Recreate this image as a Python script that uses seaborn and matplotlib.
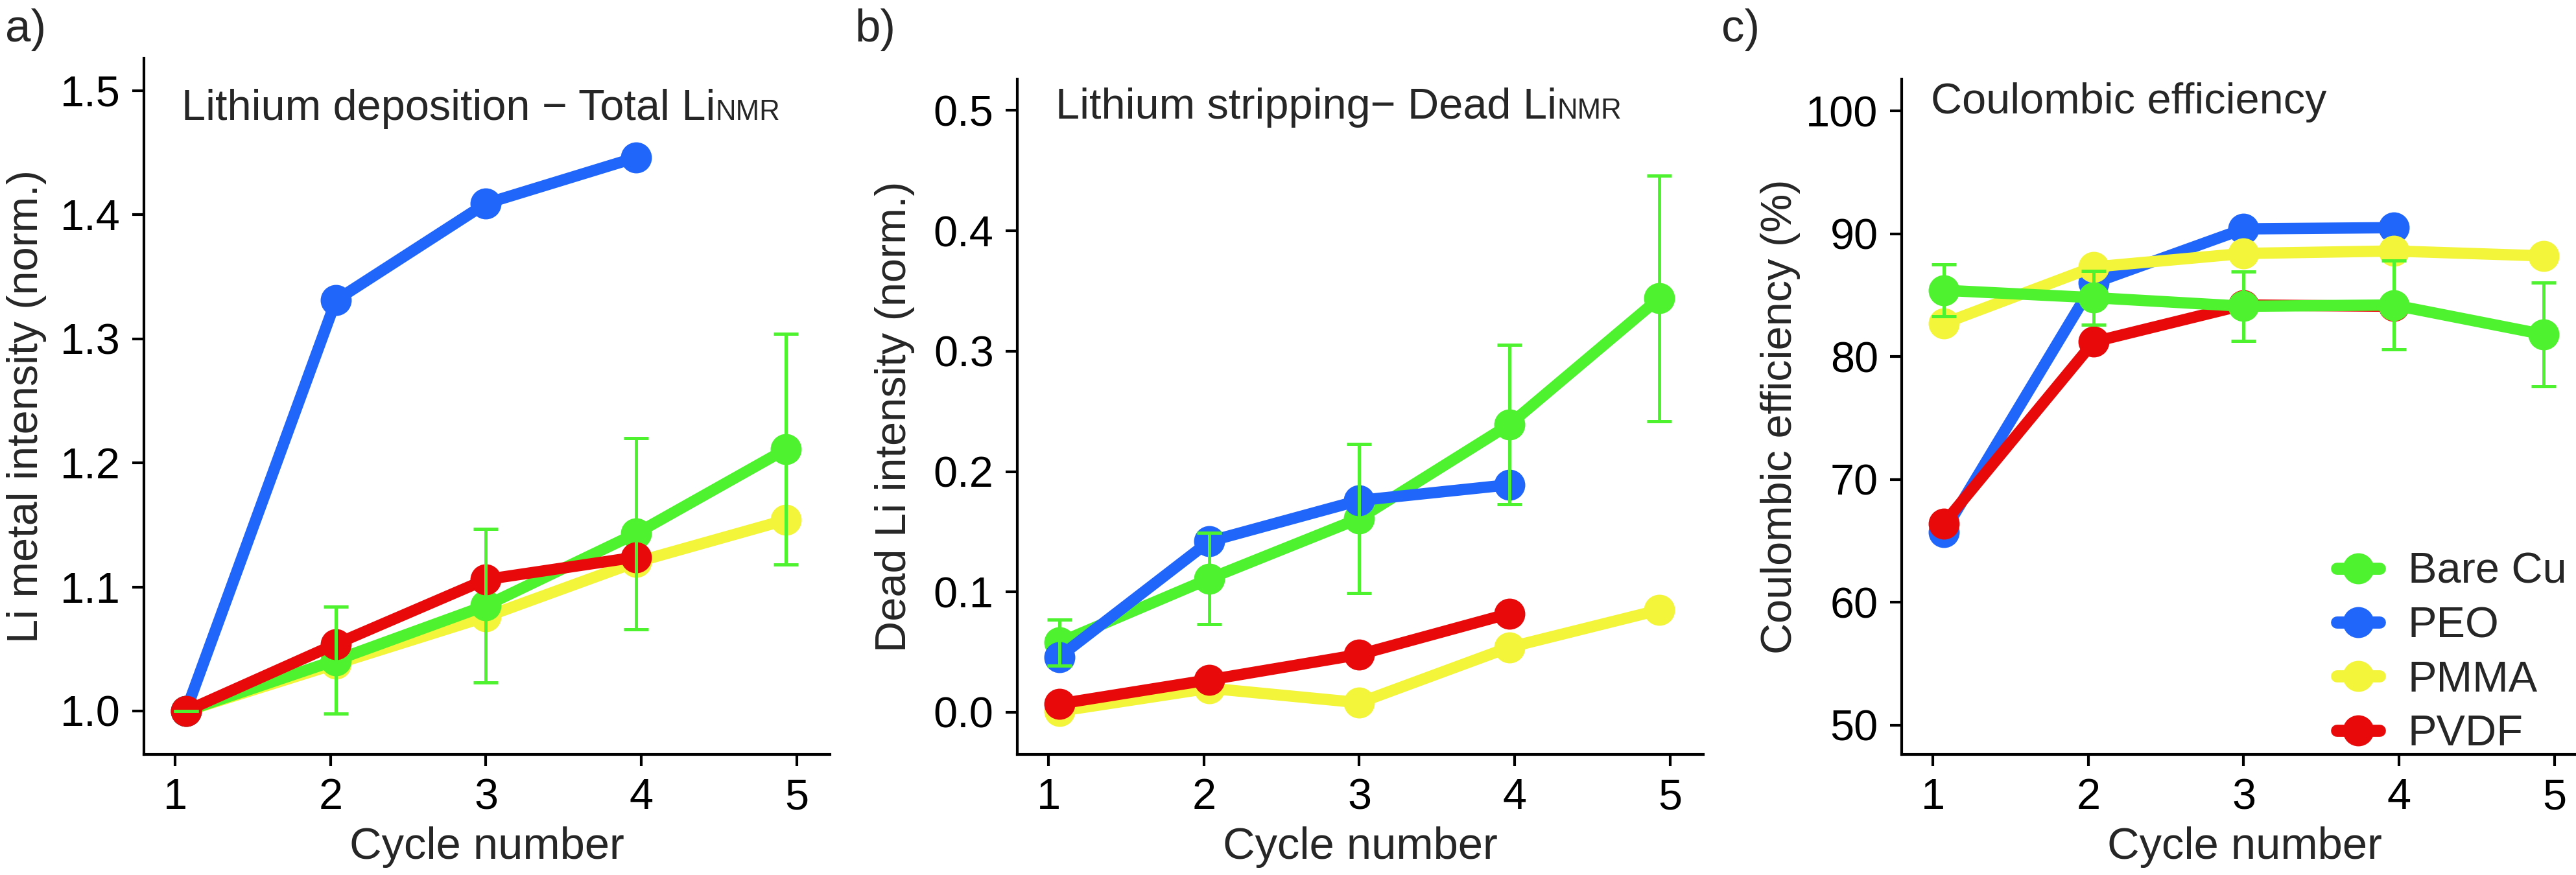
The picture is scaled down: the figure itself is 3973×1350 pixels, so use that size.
"""
Li deposition / stripping NMR and coulombic efficiency vs cycle number
"""

# %% --------------------------------------------------------------------------
# Imports
# -----------------------------------------------------------------------------
import numpy as np
import pandas as pd
import matplotlib
matplotlib.use("Agg")
import matplotlib.pyplot as plt
import seaborn as sns

# %% --------------------------------------------------------------------------
# Data
# -----------------------------------------------------------------------------
cycles = [1, 2, 3, 4, 5]
samples = ["Bare Cu", "PEO", "PMMA", "PVDF"]
colors = {"Bare Cu": "#4EF22E", "PEO": "#2166FA",
          "PMMA": "#F2F53A", "PVDF": "#E80A0A"}

# a) total Li metal (norm.)
total_bare = [1.000, 1.041, 1.085, 1.143, 1.211]
total_bare_err = [0.0, 0.043, 0.062, 0.077, 0.093]
total_peo = [1.000, 1.331, 1.409, 1.446]
total_pmma = [1.000, 1.038, 1.076, 1.120, 1.154]
total_pvdf = [1.000, 1.054, 1.106, 1.124]

# b) dead Li (norm.)
dead_bare = [0.058, 0.111, 0.161, 0.239, 0.344]
dead_bare_err = [0.019, 0.038, 0.062, 0.066, 0.102]
dead_peo = [0.046, 0.142, 0.176, 0.189]
dead_pmma = [0.001, 0.020, 0.008, 0.054, 0.085]
dead_pvdf = [0.007, 0.027, 0.048, 0.082]

# c) coulombic efficiency (%)
ce_bare = [85.4, 84.8, 84.1, 84.2, 81.8]
ce_bare_err = [2.1, 2.2, 2.8, 3.6, 4.2]
ce_peo = [65.7, 86.0, 90.4, 90.5]
ce_pmma = [82.7, 87.3, 88.4, 88.6, 88.2]
ce_pvdf = [66.4, 81.2, 84.2, 84.1]


def to_long(series):
    rows = []
    for name, vals in series.items():
        for c, v in zip(cycles, vals):
            rows.append({"sample": name, "cycle": c, "value": v})
    return pd.DataFrame(rows)


df_total = to_long({"Bare Cu": total_bare, "PEO": total_peo,
                    "PMMA": total_pmma, "PVDF": total_pvdf})
df_dead = to_long({"Bare Cu": dead_bare, "PEO": dead_peo,
                   "PMMA": dead_pmma, "PVDF": dead_pvdf})
df_ce = to_long({"Bare Cu": ce_bare, "PEO": ce_peo,
                 "PMMA": ce_pmma, "PVDF": ce_pvdf})

# %% --------------------------------------------------------------------------
# Style
# -----------------------------------------------------------------------------
sns.set_theme(style="ticks")
plt.rcParams["font.family"] = ["Liberation Sans", "DejaVu Sans"]
plt.rcParams["axes.linewidth"] = 1.0
plt.rcParams["axes.unicode_minus"] = True

W, H, DPI = 3973, 1350, 300
fig = plt.figure(figsize=(W / DPI, H / DPI), dpi=DPI)

ax_w = 1058 / W
ax_a = fig.add_axes([222 / W, (H - 1164) / H, ax_w, (1164 - 90) / H])
ax_b = fig.add_axes([1569 / W, (H - 1164) / H, ax_w, (1164 - 122) / H])
ax_c = fig.add_axes([2933 / W, (H - 1164) / H, ax_w, (1164 - 122) / H])

# markers sit slightly inside the tick marks in the original
tick_pos = 1 + (np.array(cycles) - 1.07) / 0.965
x_lim = (0.72, 5.293)

LW, MS = 4.2, 11.5


def draw_panel(ax, df, order, err, ylim, yticks, ylabel, ypad):
    for i, name in enumerate(order):
        sub = df[df["sample"] == name]
        sns.lineplot(data=sub, x="cycle", y="value", color=colors[name],
                     marker="o", markersize=MS, markeredgewidth=0,
                     linewidth=LW, ax=ax, zorder=2 + i, label=name,
                     legend=False)
    ax.errorbar(cycles, df[df["sample"] == "Bare Cu"]["value"], yerr=err,
                fmt="none", ecolor=colors["Bare Cu"], elinewidth=1.2,
                capsize=4.5, capthick=1.2, zorder=10)
    ax.set_xlim(*x_lim)
    ax.set_ylim(*ylim)
    ax.set_xticks(tick_pos)
    ax.set_xticklabels([str(c) for c in cycles])
    ax.set_yticks(yticks)
    ax.set_xlabel("Cycle number", fontsize=16.5, labelpad=3)
    ax.set_ylabel(ylabel, fontsize=16, labelpad=ypad)
    ax.tick_params(axis="both", labelsize=16, length=4.4, width=1.0,
                   pad=4.3, color="black", labelcolor="black")
    sns.despine(ax=ax)
    for s in ["left", "bottom"]:
        ax.spines[s].set_color("black")


draw_panel(ax_a, df_total, ["PMMA", "Bare Cu", "PEO", "PVDF"],
           total_bare_err, (0.965, 1.526),
           [1.0, 1.1, 1.2, 1.3, 1.4, 1.5], "Li metal intensity (norm.)", 5)
ax_a.yaxis.set_major_formatter(matplotlib.ticker.FormatStrFormatter("%.1f"))

draw_panel(ax_b, df_dead, ["PMMA", "PVDF", "Bare Cu", "PEO"],
           dead_bare_err, (-0.035, 0.526),
           [0.0, 0.1, 0.2, 0.3, 0.4, 0.5], "Dead Li intensity (norm.)", 7)
ax_b.yaxis.set_major_formatter(matplotlib.ticker.FormatStrFormatter("%.1f"))

draw_panel(ax_c, df_ce, ["PEO", "PVDF", "PMMA", "Bare Cu"],
           ce_bare_err, (47.6, 102.6),
           [50, 60, 70, 80, 90, 100], "Coulombic efficiency (%)", 2)


def inset_title(ax, main, sub, x, y):
    t = ax.text(x, y, main, transform=ax.transAxes, fontsize=16,
                ha="left", va="baseline")
    if sub:
        ax.annotate(sub, xy=(1, y), xycoords=(t, "axes fraction"),
                    fontsize=10.5, ha="left", va="baseline")


inset_title(ax_a, "Lithium deposition \u2212 Total Li", "NMR", 0.055, 0.912)
inset_title(ax_b, "Lithium stripping\u2212 Dead Li", "NMR", 0.056, 0.941)
inset_title(ax_c, "Coulombic efficiency", None, 0.043, 0.949)

# legend in panel c
handles = [plt.Line2D([], [], color=colors[s], marker="o", markersize=MS,
                      markeredgewidth=0, linewidth=4.5) for s in samples]
ax_c.legend(handles, samples, loc="lower left", bbox_to_anchor=(0.634, 0.0),
            frameon=False, fontsize=16, handlelength=1.0,
            handletextpad=0.65, labelspacing=0.32, borderaxespad=0,
            borderpad=0)

# panel letters
for lbl, xp in [("a)", 8), ("b)", 1318), ("c)", 2655)]:
    fig.text(xp / W, 1 - 64 / H, lbl, fontsize=17, ha="left", va="baseline")

fig.savefig("out.png", dpi=DPI)
